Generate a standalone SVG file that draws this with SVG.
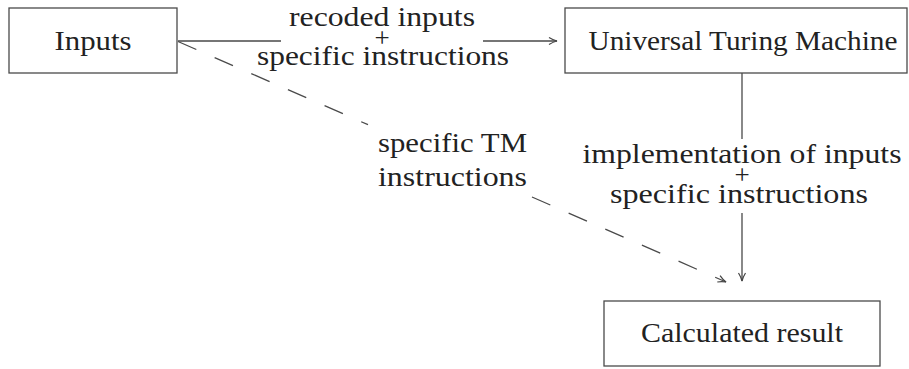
<svg xmlns="http://www.w3.org/2000/svg" width="909" height="369" viewBox="0 0 909 369" font-family="Liberation Serif">
<defs>
<style>
.box{fill:#fff;stroke:#4a4a4a;stroke-width:1.3}
.ln{fill:none;stroke:#4a4a4a;stroke-width:1.3}
.dash{stroke-dasharray:20,20}
</style>
<marker id="arr" viewBox="0 0 10 10" refX="9" refY="5" markerWidth="10" markerHeight="10" markerUnits="userSpaceOnUse" orient="auto">
<path d="M1,1.5 Q5,4 9,5 Q5,6 1,8.5" fill="none" stroke="#444" stroke-width="1.2"/>
</marker>
</defs>
<g id="connectors">
<path class="ln" d="M178,41 H281 M483,41 H557" marker-end="url(#arr)"/>
<path class="ln" d="M742,73 V139 M742,213 V281" marker-end="url(#arr)"/>
<path class="ln dash" d="M178,41.5 L368,124.7 M532,197 L726,282" marker-end="url(#arr)"/>
<g id="label-top">
<text font-family="Liberation Serif" font-size="27" fill="#222" text-anchor="middle" x="382" y="26" textLength="186" lengthAdjust="spacingAndGlyphs">recoded inputs</text>
<text font-family="Liberation Serif" font-size="27" fill="#222" text-anchor="middle" x="382" y="47">+</text>
<text font-family="Liberation Serif" font-size="27" fill="#222" text-anchor="middle" x="383" y="65" textLength="252" lengthAdjust="spacingAndGlyphs">specific instructions</text>
</g>
<g id="label-right">
<text font-family="Liberation Serif" font-size="27" fill="#222" text-anchor="middle" x="742" y="163" textLength="319" lengthAdjust="spacingAndGlyphs">implementation of inputs</text>
<text font-family="Liberation Serif" font-size="27" fill="#222" text-anchor="middle" x="742" y="184">+</text>
<text font-family="Liberation Serif" font-size="27" fill="#222" text-anchor="middle" x="739" y="203" textLength="258" lengthAdjust="spacingAndGlyphs">specific instructions</text>
</g>
<g id="label-diag">
<text font-family="Liberation Serif" font-size="27" fill="#222" x="378" y="152" textLength="149" lengthAdjust="spacingAndGlyphs">specific TM</text>
<text font-family="Liberation Serif" font-size="27" fill="#222" x="378" y="186" textLength="149" lengthAdjust="spacingAndGlyphs">instructions</text>
</g>
</g>
<g id="inputs">
<rect class="box" x="9" y="8" width="168" height="65"/>
<text font-family="Liberation Serif" font-size="27" fill="#222" text-anchor="middle" x="93" y="50" textLength="77" lengthAdjust="spacingAndGlyphs">Inputs</text>
</g>
<g id="utm">
<rect class="box" x="565" y="8" width="342" height="65"/>
<text font-family="Liberation Serif" font-size="27" fill="#222" text-anchor="middle" x="743" y="50" textLength="309" lengthAdjust="spacingAndGlyphs">Universal Turing Machine</text>
</g>
<g id="result">
<rect class="box" x="604" y="301" width="276" height="65"/>
<text font-family="Liberation Serif" font-size="27" fill="#222" text-anchor="middle" x="742" y="342" textLength="202" lengthAdjust="spacingAndGlyphs">Calculated result</text>
</g>
</svg>
